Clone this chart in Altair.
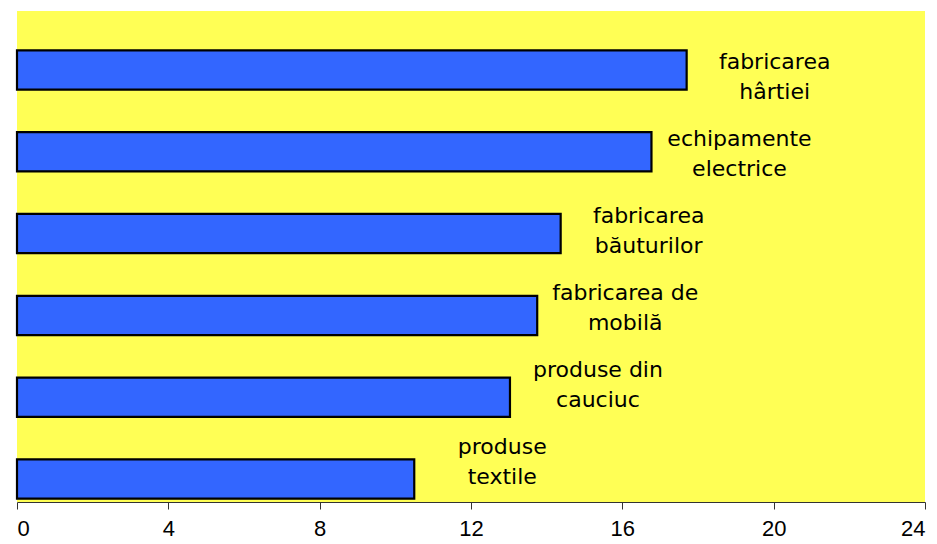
import altair as alt
import pandas as pd

categories = ["fabricarea\nhârtiei", "echipamente\nelectrice", "fabricarea\nbăuturilor",
              "fabricarea de\nmobilă", "produse din\ncauciuc", "produse\ntextile"]
values = [17.7, 16.77, 14.37, 13.75, 13.03, 10.5]
ticks = [0, 4, 8, 12, 16, 20, 24]

df = pd.DataFrame({"cat": categories, "val": values})

x = alt.X("val:Q", scale=alt.Scale(domain=[0, 24], nice=False),
          axis=alt.Axis(values=ticks, grid=False, title=None, labelFont="Liberation Sans",
                        labelFontSize=22, labelColor="black", domainColor="#333333",
                        tickColor="#333333", tickSize=7, labelPadding=9, domainWidth=1.2))
y = alt.Y("cat:N", sort=categories, title=None,
          scale=alt.Scale(paddingInner=0.52, paddingOuter=0.26),
          axis=None)

bars = alt.Chart(df).mark_bar(color="#3366FF", stroke="black", strokeWidth=2.2,
                              yOffset=18).encode(x=x, y=y)

labels = alt.Chart(df).mark_text(align="center", baseline="middle", dx=88, dy=-2,
                                 font="DejaVu Sans", fontSize=22, lineBreak="\n",
                                 lineHeight=30, color="black").encode(
    x="val:Q",
    y=alt.Y("cat:N", sort=categories, axis=None,
            scale=alt.Scale(type="point", padding=0.688)),
    text="cat:N")

chart = (bars + labels).resolve_scale(y="independent").properties(
    width=908, height=491,
    background="white",
    padding={"left": 9, "top": 3, "right": 4, "bottom": 40},
    autosize=alt.AutoSizeParams(type="none"),
).configure_view(fill="#FFFF55", strokeWidth=0)

chart.save("out.html", embed_options={"renderer": "svg", "actions": False})
